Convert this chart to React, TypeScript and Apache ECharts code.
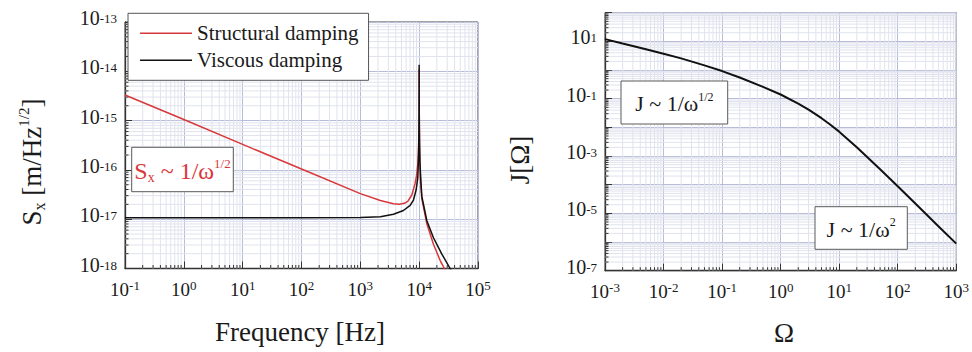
import React, { useEffect, useRef } from "react";
import * as echarts from "echarts";

const SERIF = "Liberation Serif";

// ---- axis ranges / labels ----
const freqRange = [0.1, 1e5];
const sxRange = [1e-18, 1e-13];
const omegaRange = [1e-3, 1e3];
const jRange = [1e-7, 1e2];

const legendNames = ["Structural damping", "Viscous damping"];

// ---- left panel: structural damping (red) ----
const structuralFreq = [
  0.1, 1, 10, 100, 1000, 2190, 3660, 4600, 5600, 6400, 7500, 8500, 9000, 9480,
  9700, 9850, 9930, 9970, 9990, 10000, 10010, 10030, 10070, 10150, 10300,
  10600, 11100, 13500, 17500, 22750, 27700, 32000,
];
const structuralSx = [
  3.3e-15, 1.05e-15, 3.3e-16, 1.04e-16, 3.3e-17, 2.4e-17, 2.05e-17, 2.0e-17,
  2.1e-17, 2.3e-17, 3.1e-17, 5.2e-17, 7.5e-17, 1.3e-16, 2.2e-16, 4.2e-16,
  9e-16, 2.2e-15, 5e-15, 1.1e-14, 4.5e-15, 1.8e-15, 7e-16, 3e-16, 1.3e-16,
  5.5e-17, 2.6e-17, 8.1e-18, 3.1e-18, 1.45e-18, 9.3e-19, 6e-19,
];

// ---- left panel: viscous damping (black) ----
const viscousFreq = [
  0.1, 1, 10, 100, 1000, 2190, 3660, 5400, 7030, 8000, 8870, 9480, 9700, 9850,
  9930, 9970, 9990, 10000, 10010, 10030, 10070, 10150, 10300, 10600, 11100,
  13500, 17500, 24300, 33600, 40000,
];
const viscousSx = [
  1.07e-17, 1.07e-17, 1.07e-17, 1.07e-17, 1.08e-17, 1.12e-17, 1.26e-17,
  1.5e-17, 1.9e-17, 2.45e-17, 3.9e-17, 7e-17, 1.5e-16, 3.5e-16, 8e-16, 2e-15,
  5e-15, 1.35e-14, 5e-15, 2e-15, 8e-16, 3.5e-16, 1.5e-16, 7e-17, 2.9e-17,
  9.3e-18, 4.2e-18, 1.96e-18, 1.0e-18, 7e-19,
];

// ---- right panel: J(Omega) ----
const omegaValues = [
  0.001, 0.002, 0.005, 0.01, 0.02, 0.05, 0.1, 0.2, 0.5, 1, 2, 3, 5, 7, 10, 20,
  50, 100, 200, 500, 1000,
];
const jValues = [
  12, 8.4, 5.3, 3.7, 2.55, 1.45, 0.92, 0.55, 0.26, 0.14, 0.0676, 0.0416,
  0.0209, 0.0126, 7.1e-3, 2.03e-3, 3.47e-4, 8.8e-5, 2.2e-5, 3.5e-6, 8.8e-7,
];

const MAJOR_GRID = "#b7bdd9";
const MINOR_GRID = "#e0e3ee";
const AXIS_COLOR = "#333";
const TEXT = "#1a1a1a";
const RED = "#d8383a";

function minorValues(range: number[]): number[] {
  const out: number[] = [];
  const d0 = Math.round(Math.log10(range[0]));
  const d1 = Math.round(Math.log10(range[1]));
  for (let d = d0; d < d1; d++) {
    for (let m = 2; m <= 9; m++) out.push(m * Math.pow(10, d));
  }
  return out;
}

function expOf(v: number) {
  return Math.round(Math.log10(v));
}

const xRich = {
  b: { fontSize: 19, fontFamily: SERIF, color: TEXT, lineHeight: 20, padding: [2, 0, 0, 0] },
  s: { fontSize: 13, fontFamily: SERIF, color: TEXT, lineHeight: 13, verticalAlign: "top" },
};
const yRich = {
  b: { fontSize: 20, fontFamily: SERIF, color: TEXT, lineHeight: 20, padding: [8, 0, 4, 0], verticalAlign: "bottom" },
  s: { fontSize: 13, fontFamily: SERIF, color: TEXT, lineHeight: 14, verticalAlign: "top" },
};

function logAxis(gridIndex: number, range: number[], isX: boolean, oddOnly = false) {
  const span = Math.round(Math.log10(range[1]) - Math.log10(range[0]));
  return {
    type: "log",
    logBase: 10,
    gridIndex,
    min: range[0],
    max: range[1],
    splitNumber: span,
    axisLine: { show: true, onZero: false, lineStyle: { color: AXIS_COLOR, width: 1.3 } },
    axisTick: { show: true, inside: true, length: 7, lineStyle: { color: AXIS_COLOR, width: 1 } },
    splitLine: { show: true, lineStyle: { color: MAJOR_GRID, width: 1 } },
    axisLabel: {
      show: true,
      margin: isX ? 10 : 8,
      formatter: (v: number) => {
        const e = expOf(v);
        if (oddOnly && Math.abs(e) % 2 === 0) return "";
        return `{b|10}{s|${e}}`;
      },
      rich: isX ? xRich : yRich,
    },
  };
}

function minorGridSeries(idx: number, xr: number[], yr: number[], tickLen: number) {
  const xs = minorValues(xr);
  const ys = minorValues(yr);
  return {
    type: "custom",
    xAxisIndex: idx,
    yAxisIndex: idx,
    silent: true,
    z: 1,
    data: [[xr[0], yr[0]]],
    renderItem: (_params: any, api: any) => {
      const children: any[] = [];
      for (const v of xs) {
        const p0 = api.coord([v, yr[0]]);
        const p1 = api.coord([v, yr[1]]);
        children.push({
          type: "line",
          shape: { x1: p0[0], y1: p0[1], x2: p1[0], y2: p1[1] },
          style: { stroke: MINOR_GRID, lineWidth: 1 },
        });
        children.push({
          type: "line",
          shape: { x1: p0[0], y1: p0[1], x2: p0[0], y2: p0[1] - tickLen },
          style: { stroke: AXIS_COLOR, lineWidth: 1 },
        });
      }
      for (const v of ys) {
        const p0 = api.coord([xr[0], v]);
        const p1 = api.coord([xr[1], v]);
        children.push({
          type: "line",
          shape: { x1: p0[0], y1: p0[1], x2: p1[0], y2: p1[1] },
          style: { stroke: MINOR_GRID, lineWidth: 1 },
        });
        children.push({
          type: "line",
          shape: { x1: p0[0], y1: p0[1], x2: p0[0] + tickLen, y2: p0[1] },
          style: { stroke: AXIS_COLOR, lineWidth: 1 },
        });
      }
      return { type: "group", children };
    },
  };
}

function pairs(xs: number[], ys: number[]) {
  return xs.map((x, i) => [x, ys[i]]);
}

const titleRich = (size: number, color: string) => ({
  a: { fontSize: size, fontFamily: SERIF, fill: color, lineHeight: size + 4 },
  sub: { fontSize: Math.round(size * 0.6), fontFamily: SERIF, fill: color, lineHeight: size + 4, verticalAlign: "bottom" },
  sup: { fontSize: Math.round(size * 0.55), fontFamily: SERIF, fill: color, lineHeight: Math.round(size * 0.6), verticalAlign: "top" },
});

function annotation(x: number, y: number, w: number, h: number, text: string, size: number, color: string) {
  return {
    type: "group",
    z: 100,
    children: [
      {
        type: "rect",
        z: 100,
        shape: { x, y, width: w, height: h },
        style: { fill: "#fff", stroke: "#5a5a5a", lineWidth: 1 },
      },
      {
        type: "text",
        z: 101,
        x: x + w / 2,
        y: y + h / 2 + 1,
        style: { text, rich: titleRich(size, color), fill: color, align: "center", verticalAlign: "middle" },
      },
    ],
  };
}

export default function App() {
  const ref = useRef<HTMLDivElement>(null);
  useEffect(() => {
    if (!ref.current) return;
    const chart = echarts.init(ref.current, null, { renderer: "svg" });
    const option: any = {
      animation: false,
      backgroundColor: "#ffffff",
      grid: [
        { left: 125, top: 10.5, width: 353, height: 258, show: true, borderColor: "#444", borderWidth: 1, backgroundColor: "transparent" },
        { left: 605, top: 12.7, width: 353, height: 258, show: true, borderColor: "#444", borderWidth: 1, backgroundColor: "transparent" },
      ],
      xAxis: [logAxis(0, freqRange, true), logAxis(1, omegaRange, true)],
      yAxis: [logAxis(0, sxRange, false), logAxis(1, jRange, false, true)],
      legend: {
        left: 128,
        top: 13.3,
        orient: "vertical",
        data: legendNames.map((n) => ({ name: n, icon: "rect" })),
        padding: [9, 10, 9, 12],
        itemGap: 5,
        itemWidth: 52,
        itemHeight: 1.6,
        borderColor: "#555",
        borderWidth: 1,
        backgroundColor: "#fff",
        selectedMode: false,
        textStyle: { fontFamily: SERIF, fontSize: 21, color: TEXT, lineHeight: 22 },
      },
      series: [
        minorGridSeries(0, freqRange, sxRange, 3.5),
        minorGridSeries(1, omegaRange, jRange, 3.5),
        {
          name: legendNames[0],
          type: "line",
          xAxisIndex: 0,
          yAxisIndex: 0,
          data: pairs(structuralFreq, structuralSx),
          symbol: "none",
          z: 3,
          clip: true,
          lineStyle: { color: RED, width: 1.5 },
          itemStyle: { color: RED },
        },
        {
          name: legendNames[1],
          type: "line",
          xAxisIndex: 0,
          yAxisIndex: 0,
          data: pairs(viscousFreq, viscousSx),
          symbol: "none",
          z: 4,
          clip: true,
          lineStyle: { color: "#111", width: 1.5 },
          itemStyle: { color: "#111" },
        },
        {
          name: "J",
          type: "line",
          xAxisIndex: 1,
          yAxisIndex: 1,
          data: pairs(omegaValues, jValues),
          symbol: "none",
          z: 3,
          clip: true,
          lineStyle: { color: "#111", width: 2 },
        },
      ],
      graphic: [
        {
          type: "text",
          z: 100,
          x: 32,
          y: 162,
          rotation: Math.PI / 2,
          style: {
            text: "{a|S}{sub|x}{a| [m/Hz}{sup|1/2}{a|]}",
            rich: titleRich(27, TEXT),
            align: "center",
            verticalAlign: "middle",
          },
        },
        {
          type: "text",
          z: 100,
          x: 300,
          y: 332,
          style: { text: "Frequency [Hz]", fontFamily: SERIF, fontSize: 27, fill: TEXT, align: "center", verticalAlign: "middle" },
        },
        {
          type: "text",
          z: 100,
          x: 520,
          y: 160,
          rotation: Math.PI / 2,
          style: { text: "J[Ω]", fontFamily: SERIF, fontSize: 27, fill: TEXT, align: "center", verticalAlign: "middle" },
        },
        {
          type: "text",
          z: 100,
          x: 784,
          y: 333,
          style: { text: "Ω", fontFamily: SERIF, fontSize: 27, fill: TEXT, align: "center", verticalAlign: "middle" },
        },
        annotation(131.7, 147.3, 101.6, 44.4, "{a|S}{sub|x}{a| ~ 1/ω}{sup|1/2}", 24, RED),
        annotation(621, 81, 106.7, 43, "{a|J ~ 1/ω}{sup|1/2}", 22, TEXT),
        annotation(815, 206.7, 92.3, 42.6, "{a|J ~ 1/ω}{sup|2}", 22, TEXT),
      ],
    };
    chart.setOption(option);
    return () => chart.dispose();
  }, []);
  return (
    <div
      ref={ref}
      style={{ position: "absolute", left: 0, top: 0, width: 972, height: 352, background: "#fff" }}
    />
  );
}
